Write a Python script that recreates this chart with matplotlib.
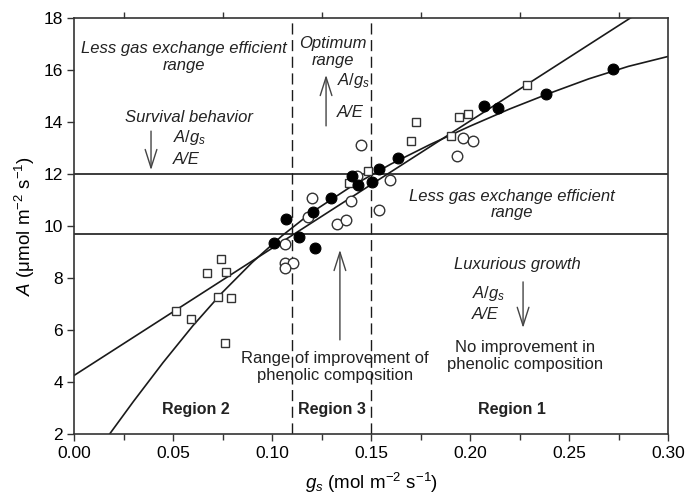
import numpy as np
import matplotlib
matplotlib.use("Agg")
import matplotlib.pyplot as plt

plt.rcParams['font.family'] = ['Liberation Sans', 'DejaVu Sans']
plt.rcParams['mathtext.fontset'] = 'custom'
plt.rcParams['mathtext.rm'] = 'Liberation Sans'
plt.rcParams['mathtext.it'] = 'Liberation Sans:italic'
plt.rcParams['mathtext.bf'] = 'Liberation Sans:bold'

# ---- data ----
sq_gs = [0.0517, 0.0589, 0.0673, 0.0742, 0.0766, 0.0729, 0.0795, 0.0761,
         0.1389, 0.1483, 0.1702, 0.1727, 0.1902, 0.1946, 0.1988, 0.2288]
sq_A = [6.74, 6.42, 8.18, 8.72, 8.22, 7.28, 7.24, 5.49,
        11.64, 12.13, 13.28, 13.99, 13.46, 14.18, 14.31, 15.41]

fc_gs = [0.1010, 0.1071, 0.1135, 0.1217, 0.1209, 0.1298, 0.1404, 0.1433,
         0.1503, 0.1538, 0.1638, 0.2071, 0.2143, 0.2384, 0.2720]
fc_A = [9.36, 10.27, 9.56, 9.17, 10.55, 11.06, 11.92, 11.58,
        11.70, 12.19, 12.60, 14.60, 14.53, 15.07, 16.04]

oc_gs = [0.1066, 0.1066, 0.1104, 0.1066, 0.1184, 0.1204, 0.1327, 0.1374,
         0.1400, 0.1430, 0.1447, 0.1542, 0.1596, 0.1933, 0.1966, 0.2017]
oc_A = [9.30, 8.56, 8.58, 8.37, 10.36, 11.07, 10.08, 10.23,
        10.97, 11.92, 13.11, 10.62, 11.77, 12.69, 13.40, 13.28]

# fitted curves
curve_gs = [0.018, 0.03, 0.045, 0.06, 0.075, 0.09, 0.105, 0.12, 0.14,
            0.16, 0.18, 0.20, 0.22, 0.24, 0.26, 0.28, 0.30]
curve_A = [2.0, 3.25, 4.75, 6.16, 7.45, 8.60, 9.62, 10.52, 11.52,
           12.38, 13.14, 13.84, 14.50, 15.10, 15.66, 16.14, 16.52]
line_gs = [0.0, 0.30]
line_A = [4.25, 18.93]

region_bounds_gs = [0.11, 0.15]
thresholds_A = [9.7, 12.0]

x_ticks = [0.00, 0.05, 0.10, 0.15, 0.20, 0.25, 0.30]
x_minor = [0.025, 0.075, 0.125, 0.175, 0.225, 0.275]
y_ticks = [2, 4, 6, 8, 10, 12, 14, 16, 18]

# ---- figure ----
fig = plt.figure(figsize=(6.87, 4.95), dpi=100)
ax = fig.add_axes([74/687, 1-434/495, 594/687, 416/495])

lc = '#1a1a1a'
for t in thresholds_A:
    ax.axhline(t, color=lc, lw=1.2, zorder=1)
for b in region_bounds_gs:
    ax.axvline(b, color=lc, lw=1.0, dashes=(8, 4), zorder=1)

ax.plot(curve_gs, curve_A, color=lc, lw=1.2, zorder=2)
ax.plot(line_gs, line_A, color=lc, lw=1.2, zorder=2)

ax.plot(sq_gs, sq_A, 's', ms=6.4, mfc='white', mec='#333333', mew=1.0, zorder=3)
ax.plot(oc_gs, oc_A, 'o', ms=7.6, mfc='white', mec='#333333', mew=1.0, zorder=3)
ax.plot(fc_gs, fc_A, 'o', ms=7.8, mfc='black', mec='black', mew=0.8, zorder=4)

ax.set_xlim(0, 0.30)
ax.set_ylim(2, 18)
ax.set_xticks(x_ticks)
ax.set_xticklabels([f"{v:.2f}" for v in x_ticks])
ax.set_xticks(x_minor, minor=True)
ax.set_yticks(y_ticks)
ax.set_yticklabels([str(v) for v in y_ticks])

for s in ax.spines.values():
    s.set_color('#333333')
    s.set_linewidth(1.2)

ax.tick_params(axis='x', which='major', direction='out', length=5, width=1,
               color='#333333', labelsize=12.5, pad=4, top=False)
ax.tick_params(axis='x', which='minor', direction='out', length=4, width=1,
               color='#333333', top=True, bottom=True)
ax.tick_params(axis='y', which='major', direction='out', length=5, width=1,
               color='#333333', labelsize=12.5, pad=3)

ax.set_xlabel(r'$g_s$ (mol m$^{-2}$ s$^{-1}$)', fontsize=13.5)
ax.xaxis.set_label_coords(0.5, -0.088)
ax.set_ylabel(r'$A$ (μmol m$^{-2}$ s$^{-1}$)', fontsize=13.5)
ax.yaxis.set_label_coords(-0.062, 0.5)

fs = 12
ital = dict(fontsize=fs, style='italic', color='#222222')
reg = dict(fontsize=fs, color='#222222')
arrow = dict(arrowstyle='->,head_length=1.1,head_width=0.35', lw=1.0,
             color='#444444', shrinkA=0, shrinkB=0, mutation_scale=12)

# top-left
ax.text(0.0556, 16.5, 'Less gas exchange efficient\nrange', ha='center',
        va='center', linespacing=1.15, **ital)
ax.text(0.058, 14.19, 'Survival behavior', ha='center', va='center', **ital)
ax.text(0.050, 13.42, r'$A/g_s$', ha='left', va='center', **ital)
ax.text(0.050, 12.54, 'A/E', ha='left', va='center', **ital)
ax.annotate('', xy=(0.0389, 12.15), xytext=(0.0389, 13.65), arrowprops=arrow)

# optimum
ax.text(0.1308, 16.69, 'Optimum\nrange', ha='center', va='center',
        linespacing=1.15, **ital)
ax.annotate('', xy=(0.1273, 15.81), xytext=(0.1273, 13.85), arrowprops=arrow)
ax.text(0.1328, 15.6, r'$A/g_s$', ha='left', va='center', **ital)
ax.text(0.1328, 14.38, 'A/E', ha='left', va='center', **ital)

# middle right
ax.text(0.2212, 10.83, 'Less gas exchange efficient\nrange', ha='center',
        va='center', linespacing=1.15, **ital)

# middle arrow and text
ax.annotate('', xy=(0.1343, 9.08), xytext=(0.1343, 5.62), arrowprops=arrow)
ax.text(0.1318, 4.58, 'Range of improvement of\nphenolic composition',
        ha='center', va='center', linespacing=1.15, **reg)

# luxurious growth
ax.text(0.2237, 8.5, 'Luxurious growth', ha='center', va='center', **ital)
ax.text(0.201, 7.42, r'$A/g_s$', ha='left', va='center', **ital)
ax.text(0.201, 6.58, 'A/E', ha='left', va='center', **ital)
ax.annotate('', xy=(0.2268, 6.08), xytext=(0.2268, 7.85), arrowprops=arrow)
ax.text(0.2278, 5.0, 'No improvement in\nphenolic composition', ha='center',
        va='center', linespacing=1.15, **reg)

# regions
for x, lab in [(0.0616, 'Region 2'), (0.1303, 'Region 3'), (0.2212, 'Region 1')]:
    ax.text(x, 2.93, lab, ha='center', va='center', fontsize=11.5,
            fontweight='bold', color='#222222')

fig.savefig('out.png', dpi=100)
